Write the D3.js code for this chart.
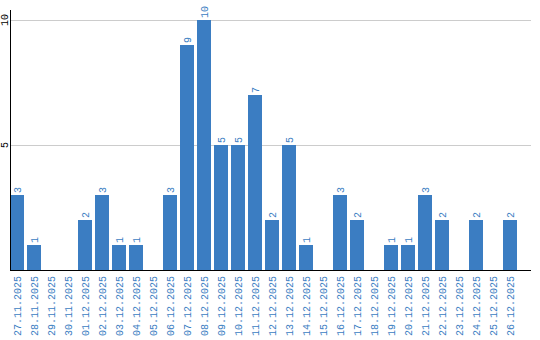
<!DOCTYPE html>
<html>
<head>
<meta charset="utf-8">
<script src="https://cdn.jsdelivr.net/npm/d3@7"></script>
<style>
  body { margin: 0; background: #fff; }
  text { font-family: "Liberation Mono", monospace; font-size: 10px; }
</style>
</head>
<body>
<div id="wrapper"></div>
<script>
// daily counts
const dates = ["27.11.2025", "28.11.2025", "29.11.2025", "30.11.2025", "01.12.2025",
  "02.12.2025", "03.12.2025", "04.12.2025", "05.12.2025", "06.12.2025",
  "07.12.2025", "08.12.2025", "09.12.2025", "10.12.2025", "11.12.2025",
  "12.12.2025", "13.12.2025", "14.12.2025", "15.12.2025", "16.12.2025",
  "17.12.2025", "18.12.2025", "19.12.2025", "20.12.2025", "21.12.2025",
  "22.12.2025", "23.12.2025", "24.12.2025", "25.12.2025", "26.12.2025"]
const counts = [3, 1, 0, 0, 2, 3, 1, 1, 0, 3, 9, 10, 5, 5, 7, 2, 5, 1, 0, 3,
  2, 0, 1, 1, 3, 2, 0, 2, 0, 2]
const yTicks = [5, 10]

const width = 540
const height = 340
const blue = "#3b7dc2"

// pair each date with its count
const rows = dates.map((d, i) => ({ date: d, count: counts[i] }))

const svg = d3.select("#wrapper")
  .append("svg")
    .attr("width", width)
    .attr("height", height)

const x = d3.scaleBand()
  .domain(dates)
  .range([10, 517])
  .paddingInner(3 / 17)
  .paddingOuter(0)

const y = d3.scaleLinear()
  .domain([0, 10.4])
  .range([270, 10])

// grid lines
svg.append("g")
  .selectAll("line")
  .data(yTicks)
  .join("line")
    .attr("x1", 10)
    .attr("x2", 531)
    .attr("y1", d => Math.round(y(d)) + 0.5)
    .attr("y2", d => Math.round(y(d)) + 0.5)
    .attr("stroke", "#cccccc")

// y tick labels, rotated
svg.append("g")
  .selectAll("text")
  .data(yTicks)
  .join("text")
    .attr("transform", d => `translate(8,${y(d)}) rotate(-90)`)
    .attr("text-anchor", "middle")
    .attr("fill", "#000")
    .text(d => d)

// bars
svg.append("g")
  .selectAll("rect")
  .data(rows)
  .join("rect")
    .attr("x", d => x(d.date))
    .attr("y", d => y(d.count))
    .attr("width", x.bandwidth())
    .attr("height", d => y(0) - y(d.count))
    .attr("fill", blue)

// value labels (only non-zero)
svg.append("g")
  .selectAll("text")
  .data(rows.filter(d => d.count > 0))
  .join("text")
    .attr("transform", d => `translate(${x(d.date) + x.bandwidth() / 2 + 3.5},${y(d.count) - 2}) rotate(-90)`)
    .attr("text-anchor", "start")
    .attr("fill", blue)
    .text(d => d.count)

// x labels
svg.append("g")
  .selectAll("text")
  .data(dates)
  .join("text")
    .attr("transform", d => `translate(${x(d) + x.bandwidth() / 2 + 3.5},276) rotate(-90)`)
    .attr("text-anchor", "end")
    .attr("fill", blue)
    .text(d => d)

// axes lines
svg.append("line")
  .attr("x1", 10.5).attr("x2", 10.5)
  .attr("y1", 10).attr("y2", 271)
  .attr("stroke", "#000")
svg.append("line")
  .attr("x1", 10).attr("x2", 531)
  .attr("y1", 270.5).attr("y2", 270.5)
  .attr("stroke", "#000")
</script>
</body>
</html>
